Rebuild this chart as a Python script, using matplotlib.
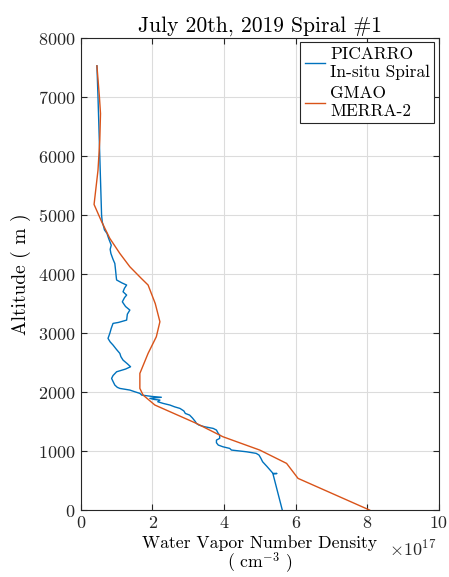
import numpy as np
import matplotlib.pyplot as plt

plt.rcParams['font.family'] = 'serif'
plt.rcParams['font.serif'] = ['cmr10']
plt.rcParams['mathtext.fontset'] = 'cm'
plt.rcParams['axes.formatter.use_mathtext'] = True

# values in units of 1e17 cm^-3
SCALE = 1e17

# PICARRO in-situ spiral
picarro_alt = [7530, 7000, 6000, 5000, 4880, 4800, 4750, 4690, 4600, 4490, 4420, 4350,
               4250, 4180, 4070, 3950, 3900, 3850, 3814, 3760, 3700, 3644, 3600, 3530,
               3450, 3390, 3320, 3220, 3180, 3164, 3080, 2995, 2910, 2850, 2797, 2720,
               2656, 2600, 2542, 2480, 2429, 2390, 2344, 2280, 2232, 2180, 2119, 2080,
               2062, 2034, 2005, 1978, 1949, 1925, 1912, 1893, 1875, 1864, 1836, 1808,
               1780, 1750, 1723, 1680, 1638, 1610, 1560, 1500, 1469, 1441, 1412, 1384,
               1356, 1299, 1271, 1215, 1186, 1141, 1102, 1073, 1045, 1017, 988, 961,
               932, 880, 819, 740, 650, 622, 620, 612, 0]
picarro_val = [0.45, 0.48, 0.53, 0.58, 0.60, 0.64, 0.66, 0.73, 0.78, 0.85, 0.82, 0.84,
               0.90, 0.95, 0.97, 0.99, 1.00, 1.15, 1.28, 1.22, 1.18, 1.28, 1.22, 1.16,
               1.25, 1.37, 1.30, 1.28, 1.05, 0.90, 0.85, 0.81, 0.76, 0.82, 0.90, 1.00,
               1.09, 1.12, 1.18, 1.30, 1.39, 1.25, 1.00, 0.90, 0.86, 0.90, 0.95, 1.02,
               1.09, 1.37, 1.51, 1.65, 1.70, 2.00, 2.25, 1.93, 2.05, 2.21, 2.15, 2.30,
               2.49, 2.62, 2.77, 2.88, 2.92, 3.04, 3.12, 3.20, 3.23, 3.30, 3.46, 3.70,
               3.79, 3.84, 3.88, 3.88, 3.79, 3.79, 3.84, 3.97, 4.16, 4.21, 4.63, 4.90,
               4.98, 5.03, 5.08, 5.20, 5.33, 5.37, 5.48, 5.37, 5.63]

# GMAO MERRA-2
merra_alt = [7530, 7000, 6720, 6270, 5760, 5180, 4890, 4605, 4350, 4124, 3927, 3814,
             3500, 3192, 2938, 2656, 2316, 2062, 1949, 1780, 1469, 1243, 1017, 791,
             537, 0]
merra_val = [0.45, 0.52, 0.55, 0.53, 0.48, 0.37, 0.58, 0.81, 1.09, 1.37, 1.69, 1.88,
             2.08, 2.21, 2.11, 1.88, 1.65, 1.65, 1.74, 2.07, 3.23, 3.97, 5.0, 5.75,
             6.07, 8.07]

fig = plt.figure(figsize=(4.49, 5.77), dpi=100)
ax = fig.add_axes([0.180, 0.116, 0.797, 0.818])

ax.plot(np.array(picarro_val) * SCALE, picarro_alt, color='#0072BD', lw=1.0,
        label='PICARRO\nIn-situ Spiral')
ax.plot(np.array(merra_val) * SCALE, merra_alt, color='#D95319', lw=1.0,
        label='GMAO\nMERRA-2')

ax.set_xlim(0, 10 * SCALE)
ax.set_ylim(0, 8000)
ax.set_xticks(np.arange(0, 11, 2) * SCALE)
ax.set_xticklabels([str(v) for v in range(0, 11, 2)])
ax.set_yticks(range(0, 8001, 1000))

ax.grid(True, color='#dcdcdc', lw=0.8)
ax.set_axisbelow(True)
ax.tick_params(direction='in', top=True, right=True, length=4, width=0.8,
               labelsize=13, colors='#262626', pad=4)
for s in ax.spines.values():
    s.set_color('#262626')
    s.set_linewidth(0.8)

ax.set_title('July 20th, 2019 Spiral #1', fontsize=15.5, pad=5)
ax.set_ylabel('Altitude ( m )', fontsize=14, labelpad=5)
ax.set_xlabel('Water Vapor Number Density\n( cm$^{-3}$ )', fontsize=12.7,
              labelpad=3, linespacing=1.0)
ax.text(0.995, -0.082, r'$\times10^{17}$', transform=ax.transAxes, fontsize=13,
        ha='right', va='center', color='#262626')

leg = ax.legend(loc='upper right', fontsize=12.5, handlelength=1.15, fancybox=False,
                framealpha=1, edgecolor='#262626', borderaxespad=0.25,
                labelspacing=0.35, handletextpad=0.3, borderpad=0.25)
leg.get_frame().set_linewidth(0.8)

fig.savefig('out.png', dpi=100)
